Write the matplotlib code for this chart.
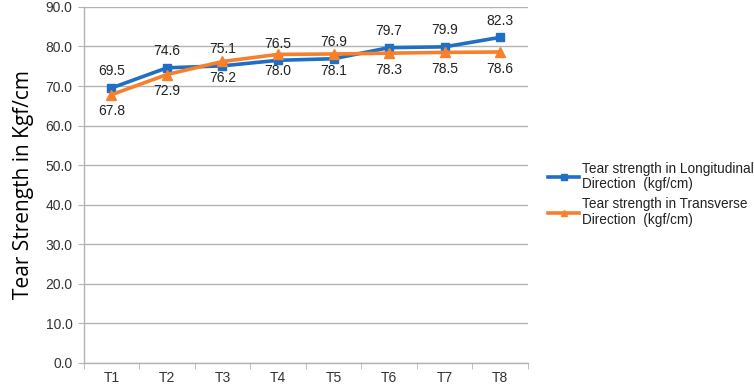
import matplotlib
matplotlib.use("Agg")
import matplotlib.pyplot as plt

categories = ["T1", "T2", "T3", "T4", "T5", "T6", "T7", "T8"]
longitudinal = [69.5, 74.6, 75.1, 76.5, 76.9, 79.7, 79.9, 82.3]
transverse = [67.8, 72.9, 76.2, 78.0, 78.1, 78.3, 78.5, 78.6]
series_names = ["Tear strength in Longitudinal\nDirection  (kgf/cm)",
                "Tear strength in Transverse\nDirection  (kgf/cm)"]
y_ticks = [0, 10, 20, 30, 40, 50, 60, 70, 80, 90]

plt.rcParams['font.family'] = ['Liberation Sans', 'DejaVu Sans']

fig = plt.figure(figsize=(7.54, 3.84), dpi=100)
ax = fig.add_axes([0.111, 0.055, 0.589, 0.927])

x = list(range(len(categories)))
blue = "#1f6fc6"
orange = "#f7802a"
grid_c = "#b3b3b3"

ax.plot(x, longitudinal, color=blue, lw=2.6, marker="s", ms=6, label=series_names[0], zorder=3)
ax.plot(x, transverse, color=orange, lw=2.6, marker="^", ms=6.5, label=series_names[1], zorder=3)

for xi, v in zip(x, longitudinal):
    ax.annotate(f"{v:.1f}", (xi, v), xytext=(0, 7), textcoords="offset points",
                ha="center", va="bottom", fontsize=10, color="#222222")
for xi, v in zip(x, transverse):
    ax.annotate(f"{v:.1f}", (xi, v), xytext=(0, -7), textcoords="offset points",
                ha="center", va="top", fontsize=10, color="#222222")

ax.set_ylim(0, 90)
ax.set_xlim(-0.5, len(categories) - 0.5)
ax.set_yticks(y_ticks)
ax.set_yticklabels([f"{t:.1f}" for t in y_ticks], fontsize=10, color="#333333")
ax.set_xticks(x)
ax.set_xticklabels(categories, fontsize=10, color="#333333")
ax.tick_params(axis="x", length=0, pad=6)
ax.set_xticks([i - 0.5 for i in range(len(categories) + 1)], minor=True)
ax.tick_params(axis="x", which="minor", length=4, color=grid_c)
ax.tick_params(axis="y", length=4, color=grid_c, pad=4)

ax.grid(axis="y", color=grid_c, lw=1)
ax.set_axisbelow(True)
for s in ["top", "right"]:
    ax.spines[s].set_visible(False)
for s in ["left", "bottom"]:
    ax.spines[s].set_color(grid_c)
    ax.spines[s].set_linewidth(1)

ax.set_ylabel("Tear Strength in Kgf/cm", fontsize=15, family=["Open Sans", "DejaVu Sans"], labelpad=8)

leg = fig.legend(loc="upper left", bbox_to_anchor=(0.727, 0.578), frameon=False,
                 fontsize=9.8, handlelength=2.3, handletextpad=0.15, labelspacing=0.45,
                 borderaxespad=0, borderpad=0, markerscale=0.75)
for t in leg.get_texts():
    t.set_color("#222222")
    t.set_linespacing(1.12)

fig.savefig("out.png", dpi=100)
